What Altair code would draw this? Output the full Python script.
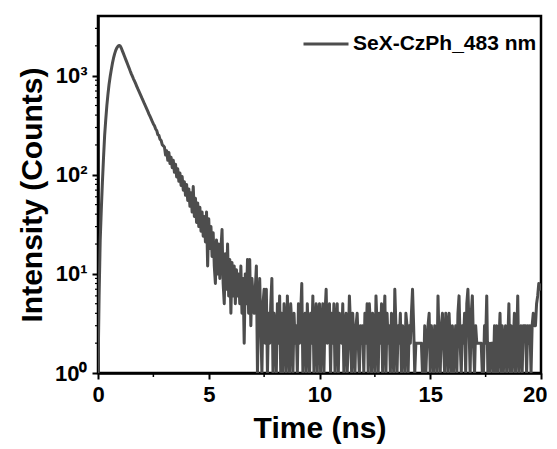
import altair as alt
import numpy as np
import pandas as pd

# ---- data (TCSPC decay, 0.05 ns channels) ----
T_STEP = 0.05
counts = (
    [1, 6, 22, 45, 85, 150, 250, 360, 500, 650, 820, 980, 1150, 1330, 1500, 1660, 1800, 1910, 1980, 2020]  # 0-1 ns
    + [2000, 1900, 1780, 1670, 1560, 1460, 1370, 1280, 1200, 1120, 1050, 990, 930, 880, 830, 780, 735, 695, 655, 618]  # 1-2
    + [582, 550, 518, 490, 462, 436, 410, 388, 366, 345, 326, 312, 291, 280, 255, 250, 228, 222, 201, 196]  # 2-3
    + [190, 158, 175, 140, 168, 130, 150, 118, 140, 106, 128, 95, 115, 86, 104, 78, 96, 70, 85, 62]  # 3-4
    + [80, 55, 72, 48, 66, 42, 76, 38, 58, 33, 52, 30, 47, 27, 42, 24, 38, 21, 42, 12]  # 4-5
    + [36, 18, 30, 15, 26, 12, 8, 22, 10, 20, 9, 18, 28, 8, 5, 16, 7, 20, 6, 14]  # 5-6
    + [4, 13, 6, 12, 5, 11, 6, 10, 5, 12, 4, 9, 2, 10, 5, 14, 4, 14, 3, 9]  # 6-7
    + [6, 4, 7, 12, 1, 5, 9, 3, 1, 5, 7, 2, 7, 1, 4, 2, 5, 9, 1, 4]  # 7-8
    + [3, 1, 5, 2, 6, 1, 4, 1, 5, 3, 1, 6, 2, 1, 5, 3, 1, 4, 2, 3]  # 8-9
    + [1, 5, 2, 4, 8, 1, 3, 4, 1, 5, 2, 1, 4, 2, 6, 1, 3, 5, 1, 4]  # 9-10
    + [5, 1, 3, 5, 1, 4, 7, 2, 3, 5, 1, 4, 2, 5, 1, 3, 5, 1, 4, 3]  # 10-11
    + [2, 5, 1, 3, 4, 1, 2, 6, 3, 1, 4, 2, 1, 3, 4, 2, 1, 3, 2, 3]  # 11-12
    + [1, 4, 2, 5, 1, 5, 3, 1, 4, 2, 1, 6, 3, 1, 4, 2, 5, 1, 3, 6]  # 12-13
    + [1, 4, 2, 3, 1, 4, 2, 1, 7, 3, 1, 3, 2, 4, 1, 3, 2, 1, 4, 3]  # 13-14
    + [1, 3, 2, 4, 7, 3, 1, 2, 2, 2, 2, 2, 2, 1, 1, 3, 1, 2, 3, 4]  # 14-15
    + [1, 3, 2, 1, 3, 2, 1, 6, 2, 1, 3, 4, 2, 1, 4, 3, 1, 4, 2, 1]  # 15-16
    + [3, 1, 2, 3, 1, 4, 6, 2, 1, 3, 2, 4, 1, 5, 7, 3, 1, 4, 6, 2]  # 16-17
    + [1, 3, 2, 2, 2, 2, 2, 1, 1, 3, 2, 6, 1, 2, 1, 2, 2, 1, 3, 1]  # 17-18
    + [3, 1, 2, 4, 1, 3, 1, 2, 3, 1, 2, 5, 1, 3, 1, 2, 4, 1, 2, 6]  # 18-19
    + [1, 2, 3, 1, 3, 3, 3, 1, 3, 2, 3, 1, 3, 4, 3, 3, 5, 6, 8, 7]  # 19-20
    + [8]  # 20 ns
)
series_name = "SeX-CzPh_483 nm"

x_ticks = [0, 5, 10, 15, 20]
x_minor = [2.5, 7.5, 12.5, 17.5]
y_ticks = [1, 10, 100, 1000]
y_minor = [2, 3, 4, 5, 6, 7, 8, 9, 20, 30, 40, 50, 60, 70, 80, 90,
           200, 300, 400, 500, 600, 700, 800, 900, 2000, 3000]

df = pd.DataFrame({
    "t": np.round(np.arange(len(counts)) * T_STEP, 2),
    "counts": counts,
    "series": series_name,
})

FONT = "Liberation Sans"
W, H = 443, 357

x_scale = alt.Scale(domain=[0, 20], nice=False)
y_scale = alt.Scale(type="log", domain=[1, 4000], nice=False)

x_axis = alt.Axis(values=x_ticks, title="Time (ns)", format="d", titlePadding=8,
                  labelPadding=5, labelFlush=True, labelFlushOffset=6)
y_axis = alt.Axis(values=y_ticks, title="Intensity (Counts)",
                  labelExpr="datum.value == 1 ? '10⁰' : datum.value == 10 ? '10¹' : datum.value == 100 ? '10²' : '10³'",
                  labelPadding=5, titlePadding=7, labelFlush=False)

line = alt.Chart(df).mark_line(strokeWidth=3, clip=True, strokeJoin="round").encode(
    x=alt.X("t:Q", scale=x_scale, axis=x_axis),
    y=alt.Y("counts:Q", scale=y_scale, axis=y_axis),
    color=alt.Color("series:N", scale=alt.Scale(range=["#4d4d4d"]),
                    legend=alt.Legend(title=None, orient="top-right", symbolType="stroke",
                                      symbolSize=2025, symbolStrokeWidth=3,
                                      labelFont=FONT, labelFontSize=21, labelFontWeight="bold",
                                      labelColor="black", labelOffset=3, labelLimit=0,
                                      padding=0, offset=4)),
)

y_minor_ticks = alt.Chart(pd.DataFrame({"counts": y_minor})).mark_rule(
    color="black", strokeWidth=1.2, clip=False
).encode(
    y=alt.Y("counts:Q", scale=y_scale, axis=y_axis),
    x=alt.value(-3), x2=alt.value(0),
)

x_minor_ticks = alt.Chart(pd.DataFrame({"t": x_minor})).mark_rule(
    color="black", strokeWidth=1.5, clip=False
).encode(
    x=alt.X("t:Q", scale=x_scale, axis=x_axis),
    y=alt.value(H), y2=alt.value(H + 4),
)

chart = alt.layer(line, y_minor_ticks, x_minor_ticks).properties(
    width=W, height=H,
    autosize=alt.AutoSizeParams(type="none"),
    padding={"left": 90, "top": 8, "right": 6, "bottom": 74},
    background="white",
).configure_view(
    stroke="black", strokeWidth=2.5
).configure_axis(
    grid=False,
    domainColor="black", domainWidth=2.5,
    tickColor="black", tickWidth=2, tickSize=6,
    labelFont=FONT, labelFontSize=22, labelFontWeight="bold", labelColor="black",
    titleFont=FONT, titleFontSize=30, titleFontWeight="bold", titleColor="black",
)

chart.save("out.html", embed_options={"renderer": "svg", "actions": False})
